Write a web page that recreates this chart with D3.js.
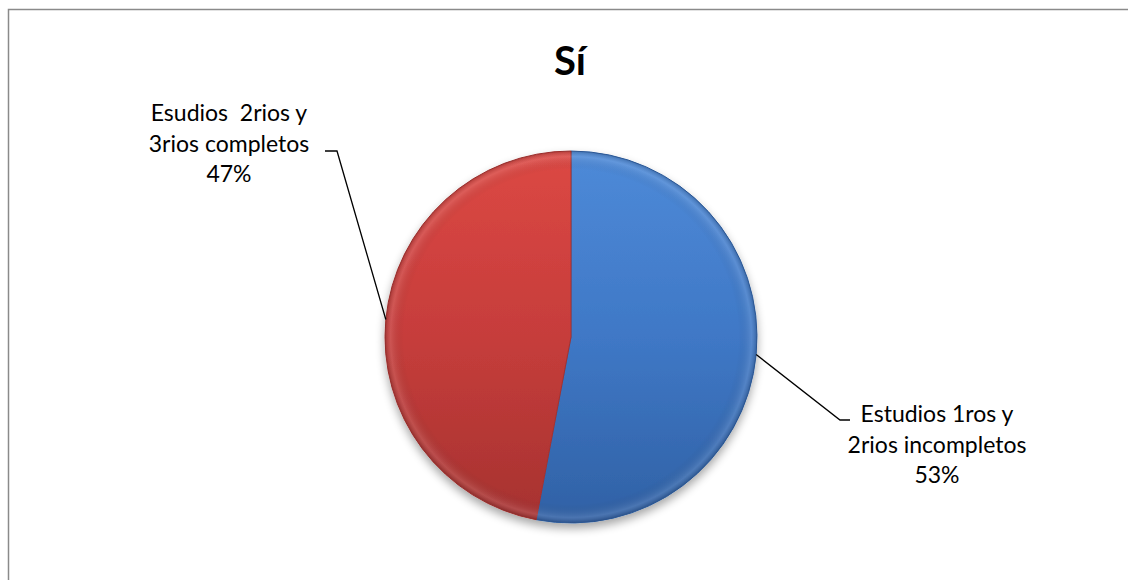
<!DOCTYPE html>
<html><head><meta charset="utf-8">
<script src="https://cdn.jsdelivr.net/npm/d3@7"></script>
<style>html,body{margin:0;padding:0;background:#fff;}svg{display:block;}text{white-space:pre;}</style>
</head><body>
<svg id="chart" width="1128" height="580"></svg>
<script>
const title = "Sí";
const categories = ["Estudios 1ros y\n2rios incompletos", "Esudios  2rios y\n3rios completos"];
const values = [53, 47];
const percentLabels = ["53%", "47%"];
const colors = ["#3f78c6", "#c63d3b"];
const lightColors = ["#4e8ad8", "#dc4844"];
const darkColors = ["#3061a5", "#a63230"];

const svg = d3.select("#chart");
const W = 1128, H = 580;
svg.append("rect").attr("width", W).attr("height", H).attr("fill", "#fff");
svg.append("path").attr("d", `M8.5,${H+5} L8.5,9.5 L${W+5},9.5`)
  .attr("fill", "none").attr("stroke", "#8a8a8a").attr("stroke-width", 1.5);

svg.append("text").attr("x", 570).attr("y", 75).attr("text-anchor", "middle")
  .attr("font-family", "Lato, 'Open Sans', sans-serif").attr("font-weight", "bold")
  .attr("font-size", 40).attr("fill", "#000").text(title);

const cx = 571, cy = 337, R = 186;
const defs = svg.append("defs");
values.forEach((v, i) => {
  const g = defs.append("linearGradient").attr("id", "grad" + i)
    .attr("gradientUnits", "userSpaceOnUse").attr("x1", 0).attr("y1", -R).attr("x2", 0).attr("y2", R);
  g.append("stop").attr("offset", "0%").attr("stop-color", lightColors[i]);
  g.append("stop").attr("offset", "50%").attr("stop-color", colors[i]);
  g.append("stop").attr("offset", "100%").attr("stop-color", darkColors[i]);
});
const rg = defs.append("radialGradient").attr("id", "bevel")
  .attr("gradientUnits", "userSpaceOnUse").attr("cx", 0).attr("cy", 0).attr("r", R);
rg.append("stop").attr("offset", "90%").attr("stop-color", "#000").attr("stop-opacity", 0);
rg.append("stop").attr("offset", "97%").attr("stop-color", "#fff").attr("stop-opacity", 0.12);
rg.append("stop").attr("offset", "100%").attr("stop-color", "#000").attr("stop-opacity", 0.18);
const f = defs.append("filter").attr("id", "shadow").attr("x", "-20%").attr("y", "-20%").attr("width", "140%").attr("height", "140%");
f.append("feGaussianBlur").attr("in", "SourceAlpha").attr("stdDeviation", 5);
f.append("feOffset").attr("dx", 0).attr("dy", 5).attr("result", "b");
f.append("feComponentTransfer").append("feFuncA").attr("type", "linear").attr("slope", 0.35);
const fm = f.append("feMerge");
fm.append("feMergeNode");
fm.append("feMergeNode").attr("in", "SourceGraphic");

const pie = d3.pie().sort(null).value(d => d)(values);
const arc = d3.arc().innerRadius(0).outerRadius(R);
const g = svg.append("g").attr("transform", `translate(${cx},${cy})`);
const pg = g.append("g").attr("filter", "url(#shadow)");
pg.selectAll("path.slice").data(pie).join("path").attr("class", "slice")
  .attr("d", arc).attr("fill", (d, i) => `url(#grad${i})`)
  .attr("stroke", (d, i) => darkColors[i]).attr("stroke-width", 1);
g.selectAll("path.bev").data(pie).join("path").attr("class", "bev")
  .attr("d", arc).attr("fill", "url(#bevel)");

const labelPos = [ {x: 937, y: 422, anchorX: 850, anchorY: 420, elbowX: 840},
                   {x: 229, y: 121, anchorX: 325, anchorY: 151, elbowX: 337} ];
pie.forEach((d, i) => {
  const a = (d.startAngle + d.endAngle) / 2;
  const px = cx + R * Math.sin(a), py = cy - R * Math.cos(a);
  const lp = labelPos[i];
  svg.append("polyline")
    .attr("points", `${px},${py} ${lp.elbowX},${lp.anchorY} ${lp.anchorX},${lp.anchorY}`)
    .attr("fill", "none").attr("stroke", "#000").attr("stroke-width", 1.3);
  const lines = categories[i].split("\n").concat([percentLabels[i]]);
  const t = svg.append("text").attr("text-anchor", "middle")
    .attr("font-family", "Lato, 'Open Sans', sans-serif").attr("font-size", 23).attr("fill", "#000");
  lines.forEach((ln, k) => {
    t.append("tspan").attr("x", lp.x).attr("y", lp.y + k * 30.5).text(ln);
  });
});
</script>
</body></html>
